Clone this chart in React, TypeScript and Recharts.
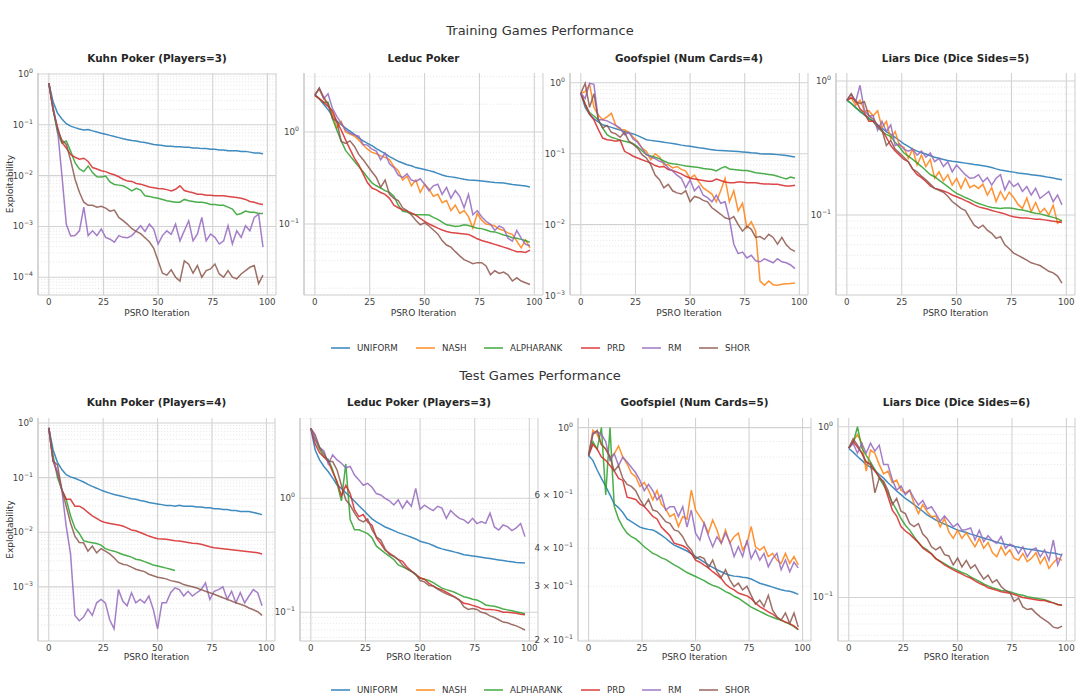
import React from 'react';
import { LineChart, Line, XAxis, YAxis, CartesianGrid } from 'recharts';

// PSRO iterations (every second iteration is kept)
const ITERS = [0, 2, 4, 6, 8, 10, 12, 14, 16, 18, 20, 22, 24, 26, 28, 30, 32, 34, 36, 38, 40, 42, 44, 46, 48, 50, 52, 54, 56, 58, 60, 62, 64, 66, 68, 70, 72, 74, 76, 78, 80, 82, 84, 86, 88, 90, 92, 94, 96, 98];

// Kuhn Poker (Players=3)
const kuhn3Uniform = [0.66, 0.28, 0.17, 0.13, 0.105, 0.094, 0.088, 0.083, 0.079, 0.081, 0.076, 0.072, 0.068, 0.065, 0.062, 0.059, 0.056, 0.053, 0.051, 0.049, 0.048, 0.046, 0.045, 0.043, 0.041, 0.040, 0.039, 0.038, 0.038, 0.037, 0.037, 0.036, 0.036, 0.035, 0.035, 0.034, 0.034, 0.033, 0.033, 0.032, 0.032, 0.031, 0.031, 0.031, 0.030, 0.030, 0.029, 0.028, 0.028, 0.027];
const kuhn3Alpharank = [0.66, 0.2, 0.07, 0.044, 0.048, 0.03, 0.018, 0.0135, 0.012, 0.0155, 0.0115, 0.0095, 0.0094, 0.0098, 0.0075, 0.0067, 0.0065, 0.0063, 0.0057, 0.005, 0.0056, 0.0052, 0.004, 0.0039, 0.0037, 0.0036, 0.0034, 0.0032, 0.0031, 0.003, 0.003, 0.0034, 0.0032, 0.0031, 0.003, 0.003, 0.0029, 0.0027, 0.0027, 0.0026, 0.0026, 0.0024, 0.0022, 0.0017, 0.0018, 0.002, 0.0019, 0.0019, 0.0018, 0.0018];
const kuhn3Prd = [0.66, 0.19, 0.09, 0.045, 0.035, 0.026, 0.023, 0.021, 0.022, 0.019, 0.0144, 0.0135, 0.0125, 0.012, 0.011, 0.0104, 0.0095, 0.0085, 0.0078, 0.0077, 0.007, 0.0068, 0.0064, 0.006, 0.0058, 0.0056, 0.0055, 0.0053, 0.005, 0.0054, 0.0063, 0.0051, 0.0048, 0.0046, 0.0043, 0.0043, 0.0041, 0.0041, 0.004, 0.004, 0.004, 0.0039, 0.0038, 0.0037, 0.0036, 0.0034, 0.0031, 0.003, 0.0028, 0.0027];
const kuhn3Rm = [0.66, 0.22, 0.08, 0.01, 0.0011, 0.00065, 0.00066, 0.00082, 0.0024, 0.00066, 0.00082, 0.00066, 0.00089, 0.00061, 0.00056, 0.00049, 0.00066, 0.00061, 0.0006, 0.00066, 0.00082, 0.00103, 0.0008, 0.00111, 0.00089, 0.00045, 0.00066, 0.00082, 0.0007, 0.00111, 0.00052, 0.00082, 0.00129, 0.00052, 0.00071, 0.0015, 0.00052, 0.00071, 0.00061, 0.00045, 0.00052, 0.00103, 0.00045, 0.00082, 0.00061, 0.00103, 0.00082, 0.0015, 0.00175, 0.00039];
const kuhn3Shor = [0.66, 0.2, 0.08, 0.05, 0.041, 0.02, 0.0085, 0.0047, 0.003, 0.0026, 0.0026, 0.0024, 0.0025, 0.0023, 0.002, 0.0021, 0.0015, 0.0013, 0.0011, 0.0009, 0.0008, 0.00072, 0.0006, 0.0005, 0.00037, 0.00021, 0.00012, 0.00011, 0.00014, 0.0001, 0.000084, 0.00021, 0.00018, 0.00012, 0.00017, 0.0001, 0.000135, 0.000146, 0.000182, 0.000116, 0.0001, 0.000135, 0.0001, 0.000093, 0.000116, 0.000135, 0.000157, 0.00017, 0.000075, 0.00011];

// Leduc Poker
const leducUniform = [2.55, 2.3, 2.0, 1.75, 1.5, 1.31, 1.2, 1.1, 1.02, 0.94, 0.86, 0.8, 0.75, 0.71, 0.66, 0.62, 0.58, 0.54, 0.51, 0.48, 0.46, 0.44, 0.43, 0.41, 0.40, 0.39, 0.38, 0.37, 0.355, 0.34, 0.33, 0.325, 0.32, 0.313, 0.306, 0.30, 0.298, 0.296, 0.293, 0.29, 0.286, 0.283, 0.281, 0.278, 0.273, 0.268, 0.265, 0.262, 0.258, 0.252];
const leducNash = [2.6, 2.9, 2.3, 2.0, 1.6, 1.1, 1.3, 1.0, 0.95, 0.9, 0.82, 0.72, 0.65, 0.6, 0.58, 0.55, 0.53, 0.5, 0.42, 0.38, 0.3, 0.33, 0.26, 0.3, 0.22, 0.27, 0.24, 0.2, 0.21, 0.17, 0.18, 0.14, 0.16, 0.13, 0.14, 0.12, 0.09, 0.13, 0.11, 0.1, 0.098, 0.095, 0.088, 0.085, 0.08, 0.077, 0.065, 0.055, 0.067, 0.055];
const leducAlpharank = [2.5, 2.3, 2.1, 2.1, 1.4, 1.05, 0.8, 0.63, 0.55, 0.48, 0.42, 0.37, 0.32, 0.28, 0.26, 0.246, 0.23, 0.22, 0.2, 0.16, 0.137, 0.135, 0.128, 0.126, 0.126, 0.126, 0.125, 0.118, 0.112, 0.105, 0.098, 0.096, 0.094, 0.095, 0.098, 0.096, 0.093, 0.09, 0.089, 0.086, 0.083, 0.082, 0.079, 0.076, 0.074, 0.071, 0.07, 0.068, 0.066, 0.063];
const leducPrd = [2.5, 2.3, 2.1, 1.9, 1.7, 1.3, 1.05, 0.82, 0.65, 0.52, 0.44, 0.35, 0.28, 0.246, 0.235, 0.22, 0.21, 0.19, 0.16, 0.15, 0.143, 0.138, 0.132, 0.125, 0.115, 0.107, 0.1, 0.095, 0.09, 0.086, 0.083, 0.081, 0.08, 0.079, 0.078, 0.077, 0.073, 0.069, 0.066, 0.064, 0.062, 0.06, 0.058, 0.056, 0.054, 0.052, 0.05, 0.05, 0.049, 0.052];
const leducRm = [2.5, 3.0, 2.3, 2.6, 1.8, 1.48, 1.25, 1.05, 0.97, 0.93, 0.9, 0.73, 0.72, 0.65, 0.62, 0.5, 0.59, 0.45, 0.41, 0.34, 0.32, 0.35, 0.3, 0.29, 0.31, 0.27, 0.23, 0.26, 0.27, 0.21, 0.25, 0.19, 0.23, 0.2, 0.15, 0.21, 0.126, 0.14, 0.12, 0.107, 0.099, 0.085, 0.095, 0.09, 0.07, 0.065, 0.085, 0.07, 0.06, 0.058];
const leducShor = [2.5, 3.0, 2.4, 2.0, 1.4, 1.3, 0.79, 0.75, 0.8, 0.7, 0.57, 0.5, 0.43, 0.37, 0.32, 0.25, 0.3, 0.21, 0.19, 0.18, 0.15, 0.14, 0.125, 0.11, 0.098, 0.103, 0.095, 0.086, 0.078, 0.066, 0.059, 0.056, 0.05, 0.045, 0.041, 0.039, 0.037, 0.038, 0.038, 0.035, 0.028, 0.031, 0.029, 0.03, 0.028, 0.024, 0.026, 0.024, 0.023, 0.022];

// Goofspiel (Num Cards=4)
const goof4Uniform = [0.71, 0.45, 0.36, 0.31, 0.28, 0.255, 0.245, 0.235, 0.225, 0.215, 0.205, 0.197, 0.19, 0.18, 0.168, 0.157, 0.154, 0.151, 0.149, 0.145, 0.142, 0.139, 0.136, 0.132, 0.129, 0.127, 0.124, 0.121, 0.119, 0.116, 0.114, 0.112, 0.111, 0.11, 0.109, 0.108, 0.107, 0.106, 0.105, 0.103, 0.102, 0.1, 0.099, 0.099, 0.098, 0.097, 0.096, 0.094, 0.092, 0.09];
const goof4Nash = [0.71, 0.75, 0.95, 0.45, 0.35, 0.3, 0.33, 0.37, 0.25, 0.22, 0.217, 0.2, 0.17, 0.15, 0.12, 0.108, 0.082, 0.1, 0.09, 0.07, 0.07, 0.063, 0.066, 0.06, 0.057, 0.045, 0.05, 0.04, 0.033, 0.03, 0.027, 0.021, 0.03, 0.045, 0.021, 0.03, 0.0156, 0.02, 0.009, 0.011, 0.0081, 0.0016, 0.0014, 0.0016, 0.00142, 0.0014, 0.00145, 0.00147, 0.00148, 0.0015];
const goof4Alpharank = [0.71, 0.5, 0.38, 0.34, 0.3, 0.23, 0.185, 0.17, 0.163, 0.155, 0.15, 0.145, 0.138, 0.125, 0.11, 0.097, 0.093, 0.089, 0.085, 0.079, 0.074, 0.072, 0.071, 0.069, 0.067, 0.066, 0.065, 0.064, 0.062, 0.061, 0.06, 0.057, 0.062, 0.066, 0.061, 0.06, 0.059, 0.058, 0.058, 0.056, 0.054, 0.053, 0.052, 0.051, 0.05, 0.048, 0.046, 0.044, 0.047, 0.045];
const goof4Prd = [0.71, 0.5, 0.36, 0.3, 0.22, 0.166, 0.157, 0.155, 0.15, 0.155, 0.108, 0.1, 0.092, 0.087, 0.082, 0.078, 0.074, 0.068, 0.065, 0.066, 0.06, 0.058, 0.055, 0.052, 0.048, 0.045, 0.044, 0.043, 0.042, 0.041, 0.041, 0.044, 0.042, 0.04, 0.039, 0.039, 0.04, 0.04, 0.039, 0.039, 0.039, 0.038, 0.0375, 0.0375, 0.037, 0.037, 0.036, 0.035, 0.035, 0.036];
const goof4Rm = [0.71, 0.6, 0.98, 0.95, 0.3, 0.3, 0.29, 0.27, 0.25, 0.23, 0.185, 0.2, 0.16, 0.145, 0.12, 0.097, 0.09, 0.085, 0.078, 0.075, 0.063, 0.057, 0.05, 0.045, 0.033, 0.043, 0.03, 0.035, 0.026, 0.024, 0.021, 0.026, 0.02, 0.021, 0.012, 0.0053, 0.0039, 0.0041, 0.0034, 0.0037, 0.0031, 0.003, 0.0033, 0.0031, 0.0029, 0.0033, 0.003, 0.0029, 0.0027, 0.0024];
const goof4Shor = [0.71, 0.98, 0.45, 0.7, 0.3, 0.23, 0.25, 0.2, 0.19, 0.17, 0.2, 0.15, 0.135, 0.12, 0.097, 0.087, 0.07, 0.05, 0.043, 0.033, 0.037, 0.03, 0.028, 0.027, 0.03, 0.021, 0.025, 0.024, 0.022, 0.021, 0.0173, 0.0156, 0.014, 0.0125, 0.0119, 0.013, 0.01, 0.0081, 0.0095, 0.0086, 0.0066, 0.0068, 0.0062, 0.0073, 0.0066, 0.0053, 0.0066, 0.0052, 0.0045, 0.0042];

// Liars Dice (Dice Sides=5)
const liars5Uniform = [0.72, 0.68, 0.64, 0.59, 0.56, 0.53, 0.5, 0.47, 0.445, 0.42, 0.40, 0.38, 0.36, 0.34, 0.325, 0.31, 0.30, 0.292, 0.285, 0.277, 0.27, 0.265, 0.26, 0.255, 0.252, 0.25, 0.247, 0.244, 0.241, 0.238, 0.236, 0.233, 0.23, 0.226, 0.221, 0.217, 0.214, 0.211, 0.209, 0.206, 0.204, 0.202, 0.2, 0.198, 0.196, 0.194, 0.191, 0.189, 0.186, 0.183];
const liars5Nash = [0.72, 0.75, 0.66, 0.72, 0.6, 0.6, 0.55, 0.6, 0.45, 0.5, 0.37, 0.42, 0.33, 0.32, 0.265, 0.31, 0.236, 0.28, 0.23, 0.26, 0.188, 0.21, 0.18, 0.2, 0.167, 0.188, 0.158, 0.188, 0.16, 0.167, 0.158, 0.17, 0.141, 0.16, 0.126, 0.15, 0.13, 0.148, 0.135, 0.12, 0.112, 0.134, 0.106, 0.124, 0.104, 0.112, 0.1, 0.118, 0.087, 0.092];
const liars5Alpharank = [0.72, 0.68, 0.63, 0.6, 0.56, 0.52, 0.5, 0.45, 0.42, 0.40, 0.385, 0.35, 0.32, 0.29, 0.275, 0.26, 0.245, 0.23, 0.215, 0.2, 0.193, 0.182, 0.172, 0.163, 0.153, 0.145, 0.14, 0.135, 0.131, 0.126, 0.122, 0.119, 0.116, 0.114, 0.113, 0.112, 0.113, 0.113, 0.112, 0.11, 0.109, 0.107, 0.105, 0.103, 0.102, 0.1, 0.098, 0.096, 0.094, 0.09];
const liars5Prd = [0.72, 0.75, 0.72, 0.62, 0.58, 0.5, 0.5, 0.46, 0.43, 0.38, 0.33, 0.3, 0.28, 0.26, 0.25, 0.22, 0.2, 0.19, 0.178, 0.165, 0.158, 0.155, 0.151, 0.147, 0.141, 0.137, 0.133, 0.128, 0.124, 0.119, 0.115, 0.113, 0.111, 0.108, 0.106, 0.104, 0.102, 0.099, 0.097, 0.096, 0.095, 0.095, 0.094, 0.093, 0.093, 0.092, 0.091, 0.09, 0.089, 0.088];
const liars5Rm = [0.72, 0.8, 0.7, 0.93, 0.6, 0.55, 0.55, 0.43, 0.5, 0.42, 0.47, 0.33, 0.34, 0.31, 0.3, 0.31, 0.28, 0.3, 0.27, 0.29, 0.25, 0.265, 0.23, 0.25, 0.21, 0.236, 0.217, 0.2, 0.188, 0.19, 0.2, 0.177, 0.19, 0.167, 0.188, 0.2, 0.154, 0.18, 0.163, 0.172, 0.15, 0.163, 0.141, 0.158, 0.133, 0.141, 0.15, 0.126, 0.141, 0.119];
const liars5Shor = [0.72, 0.8, 0.7, 0.68, 0.7, 0.55, 0.52, 0.47, 0.43, 0.33, 0.36, 0.31, 0.29, 0.27, 0.25, 0.22, 0.21, 0.195, 0.183, 0.17, 0.158, 0.153, 0.148, 0.138, 0.126, 0.119, 0.112, 0.108, 0.095, 0.084, 0.08, 0.084, 0.077, 0.073, 0.067, 0.069, 0.06, 0.056, 0.052, 0.05, 0.048, 0.046, 0.044, 0.043, 0.042, 0.04, 0.038, 0.037, 0.035, 0.031];

// Kuhn Poker (Players=4) - ALPHARANK stops after iteration 58
const kuhn4Uniform = [0.81, 0.32, 0.19, 0.14, 0.113, 0.103, 0.097, 0.09, 0.083, 0.075, 0.069, 0.064, 0.059, 0.055, 0.052, 0.049, 0.047, 0.045, 0.043, 0.041, 0.04, 0.038, 0.037, 0.035, 0.034, 0.033, 0.032, 0.031, 0.031, 0.030, 0.031, 0.030, 0.030, 0.030, 0.029, 0.029, 0.028, 0.028, 0.027, 0.027, 0.026, 0.026, 0.025, 0.025, 0.024, 0.024, 0.024, 0.023, 0.022, 0.021];
const kuhn4Alpharank = [0.81, 0.25, 0.1, 0.06, 0.04, 0.02, 0.012, 0.0095, 0.007, 0.0066, 0.0064, 0.0062, 0.0058, 0.005, 0.0047, 0.0045, 0.0042, 0.0039, 0.0037, 0.0035, 0.0032, 0.0031, 0.0029, 0.0027, 0.0025, 0.0024, 0.0023, 0.0022, 0.0021, 0.002];
const kuhn4Prd = [0.81, 0.2, 0.12, 0.06, 0.04, 0.04, 0.03, 0.03, 0.027, 0.023, 0.02, 0.018, 0.016, 0.015, 0.0145, 0.014, 0.0135, 0.013, 0.012, 0.011, 0.0106, 0.0099, 0.0092, 0.0085, 0.008, 0.0076, 0.0075, 0.0074, 0.0072, 0.007, 0.0069, 0.0067, 0.0065, 0.0063, 0.0062, 0.006, 0.0057, 0.0054, 0.0052, 0.0051, 0.005, 0.0049, 0.0048, 0.0047, 0.0046, 0.0045, 0.0044, 0.0043, 0.0042, 0.004];
const kuhn4Rm = [0.81, 0.2, 0.13, 0.06, 0.0129, 0.004, 0.0003, 0.00024, 0.00028, 0.00039, 0.0003, 0.00051, 0.00059, 0.00051, 0.00025, 0.00017, 0.00089, 0.00055, 0.00045, 0.00078, 0.00051, 0.00059, 0.00051, 0.00068, 0.00039, 0.00017, 0.00051, 0.00051, 0.00078, 0.00096, 0.00089, 0.00068, 0.00083, 0.00068, 0.00078, 0.00089, 0.00118, 0.00059, 0.00083, 0.00089, 0.001, 0.00059, 0.00083, 0.00051, 0.00078, 0.00051, 0.00068, 0.00089, 0.00078, 0.00045];
const kuhn4Shor = [0.81, 0.2, 0.17, 0.06, 0.03, 0.0148, 0.0085, 0.0065, 0.0064, 0.0045, 0.0056, 0.0042, 0.005, 0.0045, 0.004, 0.0034, 0.0028, 0.0026, 0.0025, 0.0023, 0.0021, 0.002, 0.0019, 0.0017, 0.0016, 0.0015, 0.00145, 0.0014, 0.0013, 0.00125, 0.0012, 0.0011, 0.00105, 0.001, 0.00095, 0.00089, 0.00083, 0.00078, 0.00073, 0.00068, 0.00063, 0.00059, 0.00055, 0.00051, 0.00048, 0.00045, 0.00041, 0.00038, 0.00035, 0.0003];

// Leduc Poker (Players=3)
const leduc3Uniform = [4.1, 2.65, 2.17, 1.9, 1.71, 1.5, 1.31, 1.22, 1.12, 1.03, 0.94, 0.86, 0.79, 0.72, 0.66, 0.62, 0.59, 0.56, 0.54, 0.52, 0.5, 0.485, 0.47, 0.455, 0.44, 0.42, 0.41, 0.4, 0.385, 0.37, 0.36, 0.352, 0.345, 0.337, 0.33, 0.32, 0.316, 0.312, 0.308, 0.304, 0.30, 0.296, 0.292, 0.288, 0.284, 0.28, 0.277, 0.274, 0.272, 0.27];
const leduc3Alpharank = [4.1, 3.3, 2.7, 2.3, 2.2, 1.77, 1.35, 0.95, 2.0, 0.65, 0.53, 0.53, 0.51, 0.49, 0.45, 0.38, 0.355, 0.33, 0.31, 0.29, 0.26, 0.25, 0.24, 0.228, 0.214, 0.2, 0.195, 0.19, 0.182, 0.172, 0.163, 0.158, 0.154, 0.149, 0.143, 0.137, 0.134, 0.13, 0.128, 0.123, 0.116, 0.114, 0.113, 0.11, 0.107, 0.105, 0.103, 0.101, 0.099, 0.097];
const leduc3Prd = [4.1, 3.0, 2.5, 2.3, 2.1, 1.7, 1.4, 1.05, 1.3, 1.1, 0.79, 0.69, 0.72, 0.62, 0.58, 0.45, 0.4, 0.35, 0.33, 0.31, 0.29, 0.28, 0.25, 0.23, 0.215, 0.2, 0.195, 0.18, 0.17, 0.162, 0.157, 0.15, 0.143, 0.136, 0.128, 0.12, 0.118, 0.115, 0.112, 0.108, 0.106, 0.106, 0.105, 0.103, 0.1, 0.1, 0.099, 0.098, 0.096, 0.095];
const leduc3Rm = [4.1, 3.3, 2.8, 2.6, 2.0, 2.4, 2.17, 2.03, 1.85, 1.9, 1.6, 1.45, 1.3, 1.35, 1.25, 1.1, 1.07, 1.0, 0.95, 0.874, 0.97, 0.82, 0.95, 0.85, 1.22, 0.8, 0.87, 0.82, 0.78, 0.85, 0.82, 0.667, 0.78, 0.714, 0.667, 0.646, 0.603, 0.667, 0.6, 0.624, 0.603, 0.739, 0.56, 0.527, 0.583, 0.564, 0.52, 0.55, 0.6, 0.461];
const leduc3Shor = [4.1, 3.6, 2.8, 2.45, 2.1, 2.1, 1.77, 1.3, 0.97, 0.87, 0.74, 0.65, 0.62, 0.66, 0.53, 0.46, 0.43, 0.36, 0.32, 0.31, 0.29, 0.26, 0.24, 0.23, 0.215, 0.19, 0.185, 0.172, 0.17, 0.16, 0.152, 0.145, 0.14, 0.135, 0.128, 0.112, 0.106, 0.108, 0.106, 0.1, 0.098, 0.093, 0.09, 0.086, 0.082, 0.081, 0.078, 0.076, 0.073, 0.07];

// Goofspiel (Num Cards=5)
const goof5Uniform = [0.81, 0.78, 0.725, 0.68, 0.64, 0.6, 0.56, 0.545, 0.525, 0.5, 0.49, 0.48, 0.47, 0.465, 0.462, 0.46, 0.452, 0.442, 0.432, 0.42, 0.41, 0.404, 0.398, 0.392, 0.384, 0.376, 0.368, 0.36, 0.353, 0.346, 0.34, 0.335, 0.33, 0.326, 0.324, 0.323, 0.321, 0.32, 0.317, 0.312, 0.307, 0.304, 0.301, 0.298, 0.295, 0.292, 0.29, 0.289, 0.286, 0.282];
const goof5Nash = [0.81, 0.98, 0.95, 0.88, 0.85, 0.8, 0.82, 0.87, 0.8, 0.76, 0.707, 0.69, 0.64, 0.66, 0.623, 0.578, 0.62, 0.56, 0.54, 0.509, 0.52, 0.472, 0.509, 0.5, 0.623, 0.535, 0.509, 0.484, 0.45, 0.496, 0.46, 0.416, 0.46, 0.416, 0.437, 0.449, 0.395, 0.416, 0.472, 0.405, 0.395, 0.405, 0.376, 0.385, 0.366, 0.357, 0.385, 0.357, 0.376, 0.353];
const goof5Alpharank = [0.81, 0.9, 0.85, 1.0, 0.6, 1.0, 0.55, 0.5, 0.47, 0.449, 0.437, 0.43, 0.418, 0.405, 0.395, 0.385, 0.38, 0.372, 0.368, 0.36, 0.353, 0.347, 0.34, 0.333, 0.328, 0.323, 0.318, 0.313, 0.307, 0.302, 0.299, 0.294, 0.288, 0.284, 0.278, 0.274, 0.268, 0.262, 0.256, 0.252, 0.248, 0.244, 0.24, 0.237, 0.234, 0.232, 0.228, 0.225, 0.221, 0.216];
const goof5Prd = [0.81, 0.88, 0.85, 0.8, 0.78, 0.75, 0.72, 0.68, 0.67, 0.59, 0.585, 0.58, 0.56, 0.55, 0.53, 0.51, 0.5, 0.47, 0.455, 0.44, 0.416, 0.412, 0.408, 0.4, 0.385, 0.366, 0.36, 0.352, 0.345, 0.335, 0.327, 0.318, 0.305, 0.297, 0.292, 0.285, 0.282, 0.279, 0.273, 0.264, 0.257, 0.252, 0.247, 0.243, 0.237, 0.232, 0.229, 0.226, 0.222, 0.216];
const goof5Rm = [0.81, 0.96, 0.97, 0.95, 0.9, 0.78, 0.82, 0.75, 0.8, 0.77, 0.74, 0.71, 0.67, 0.62, 0.65, 0.62, 0.578, 0.6, 0.535, 0.549, 0.549, 0.509, 0.549, 0.47, 0.535, 0.449, 0.426, 0.484, 0.44, 0.405, 0.437, 0.416, 0.45, 0.42, 0.376, 0.405, 0.376, 0.426, 0.37, 0.395, 0.366, 0.385, 0.348, 0.37, 0.385, 0.34, 0.366, 0.335, 0.36, 0.345];
const goof5Shor = [0.81, 0.95, 0.98, 0.88, 0.85, 0.8, 0.72, 0.75, 0.68, 0.65, 0.64, 0.62, 0.58, 0.55, 0.58, 0.535, 0.53, 0.51, 0.49, 0.484, 0.46, 0.455, 0.437, 0.41, 0.395, 0.37, 0.376, 0.37, 0.345, 0.366, 0.335, 0.321, 0.34, 0.315, 0.299, 0.307, 0.292, 0.3, 0.28, 0.262, 0.27, 0.257, 0.28, 0.25, 0.238, 0.232, 0.245, 0.226, 0.245, 0.22];

// Liars Dice (Dice Sides=6)
const liars6Uniform = [0.746, 0.71, 0.67, 0.635, 0.6, 0.58, 0.555, 0.525, 0.5, 0.47, 0.445, 0.42, 0.4, 0.38, 0.365, 0.35, 0.335, 0.32, 0.305, 0.295, 0.284, 0.276, 0.269, 0.262, 0.255, 0.248, 0.244, 0.24, 0.235, 0.231, 0.227, 0.223, 0.219, 0.215, 0.211, 0.207, 0.205, 0.202, 0.199, 0.197, 0.194, 0.192, 0.191, 0.189, 0.187, 0.185, 0.183, 0.182, 0.18, 0.177];
const liars6Nash = [0.75, 0.82, 0.9, 0.8, 0.55, 0.73, 0.7, 0.6, 0.53, 0.55, 0.47, 0.487, 0.425, 0.41, 0.425, 0.355, 0.31, 0.35, 0.318, 0.297, 0.3, 0.259, 0.29, 0.242, 0.222, 0.248, 0.222, 0.24, 0.217, 0.198, 0.222, 0.194, 0.21, 0.183, 0.173, 0.198, 0.177, 0.19, 0.17, 0.165, 0.181, 0.162, 0.17, 0.183, 0.158, 0.173, 0.148, 0.16, 0.17, 0.165];
const liars6Alpharank = [0.75, 0.8, 1.0, 0.75, 0.68, 0.62, 0.56, 0.5, 0.455, 0.41, 0.36, 0.325, 0.29, 0.265, 0.248, 0.227, 0.21, 0.197, 0.19, 0.18, 0.169, 0.163, 0.158, 0.152, 0.148, 0.144, 0.14, 0.137, 0.132, 0.128, 0.124, 0.12, 0.117, 0.114, 0.112, 0.11, 0.109, 0.108, 0.106, 0.104, 0.103, 0.101, 0.1, 0.099, 0.098, 0.097, 0.095, 0.093, 0.091, 0.09];
const liars6Prd = [0.75, 0.82, 0.76, 0.7, 0.62, 0.6, 0.55, 0.51, 0.47, 0.39, 0.325, 0.3, 0.26, 0.245, 0.235, 0.222, 0.21, 0.195, 0.187, 0.18, 0.169, 0.162, 0.155, 0.15, 0.145, 0.141, 0.137, 0.133, 0.13, 0.125, 0.121, 0.118, 0.114, 0.112, 0.11, 0.108, 0.107, 0.106, 0.104, 0.102, 0.1, 0.099, 0.098, 0.097, 0.096, 0.096, 0.094, 0.093, 0.091, 0.09];
const liars6Rm = [0.75, 0.8, 0.7, 0.8, 0.7, 0.8, 0.72, 0.78, 0.6, 0.6, 0.49, 0.425, 0.45, 0.4, 0.425, 0.38, 0.348, 0.37, 0.33, 0.34, 0.31, 0.28, 0.3, 0.28, 0.259, 0.271, 0.248, 0.25, 0.255, 0.217, 0.248, 0.212, 0.23, 0.215, 0.207, 0.227, 0.194, 0.205, 0.2, 0.181, 0.198, 0.173, 0.19, 0.195, 0.173, 0.19, 0.165, 0.217, 0.155, 0.181];
const liars6Shor = [0.75, 0.85, 0.78, 0.7, 0.62, 0.61, 0.41, 0.5, 0.48, 0.425, 0.35, 0.38, 0.32, 0.31, 0.271, 0.26, 0.271, 0.235, 0.222, 0.198, 0.19, 0.198, 0.178, 0.175, 0.155, 0.17, 0.151, 0.165, 0.148, 0.155, 0.14, 0.128, 0.135, 0.122, 0.127, 0.116, 0.11, 0.107, 0.095, 0.099, 0.088, 0.085, 0.086, 0.081, 0.077, 0.074, 0.071, 0.067, 0.066, 0.068];

const METHODS = ['UNIFORM', 'NASH', 'ALPHARANK', 'PRD', 'RM', 'SHOR'];
const COLORS: Record<string, string> = {
  UNIFORM: '#1f77b4',
  NASH: '#ff7f0e',
  ALPHARANK: '#2ca02c',
  PRD: '#d62728',
  RM: '#9467bd',
  SHOR: '#8c564b',
};

const FONT = '"DejaVu Sans", sans-serif';
const X_DOMAIN = [-4.95, 103.95];
const X_TICKS = [0, 25, 50, 75, 100];
// room kept around each plot for the tick labels
const PAD_LEFT = 60;
const PAD_TOP = 8;
const PAD_BOTTOM = 24;

type Panel = {
  title: string;
  left: number;
  top: number;
  width: number;
  height: number;
  yDomain: [number, number];
  yTicks: number[];
  yLabel?: boolean;
  series: Record<string, number[]>;
};

const PANELS: Panel[] = [
  {
    title: 'Kuhn Poker (Players=3)', left: 38, top: 73, width: 238, height: 222,
    yDomain: [4.47e-5, 1.047], yTicks: [1e-4, 1e-3, 1e-2, 1e-1, 1], yLabel: true,
    series: { UNIFORM: kuhn3Uniform, ALPHARANK: kuhn3Alpharank, PRD: kuhn3Prd, RM: kuhn3Rm, SHOR: kuhn3Shor },
  },
  {
    title: 'Leduc Poker', left: 304, top: 73, width: 239, height: 222,
    yDomain: [0.0169, 4.375], yTicks: [0.1, 1],
    series: { UNIFORM: leducUniform, NASH: leducNash, ALPHARANK: leducAlpharank, PRD: leducPrd, RM: leducRm, SHOR: leducShor },
  },
  {
    title: 'Goofspiel (Num Cards=4)', left: 570, top: 73, width: 238, height: 222,
    yDomain: [0.00102, 1.371], yTicks: [1e-3, 1e-2, 1e-1, 1],
    series: { UNIFORM: goof4Uniform, NASH: goof4Nash, ALPHARANK: goof4Alpharank, PRD: goof4Prd, RM: goof4Rm, SHOR: goof4Shor },
  },
  {
    title: 'Liars Dice (Dice Sides=5)', left: 836, top: 73, width: 239, height: 222,
    yDomain: [0.0253, 1.148], yTicks: [0.1, 1],
    series: { UNIFORM: liars5Uniform, NASH: liars5Nash, ALPHARANK: liars5Alpharank, PRD: liars5Prd, RM: liars5Rm, SHOR: liars5Shor },
  },
  {
    title: 'Kuhn Poker (Players=4)', left: 38, top: 418, width: 237, height: 223,
    yDomain: [1.02e-4, 1.233], yTicks: [1e-3, 1e-2, 1e-1, 1], yLabel: true,
    series: { UNIFORM: kuhn4Uniform, ALPHARANK: kuhn4Alpharank, PRD: kuhn4Prd, RM: kuhn4Rm, SHOR: kuhn4Shor },
  },
  {
    title: 'Leduc Poker (Players=3)', left: 300, top: 418, width: 238, height: 223,
    yDomain: [0.056, 5.06], yTicks: [0.1, 1],
    series: { UNIFORM: leduc3Uniform, ALPHARANK: leduc3Alpharank, PRD: leduc3Prd, RM: leduc3Rm, SHOR: leduc3Shor },
  },
  {
    title: 'Goofspiel (Num Cards=5)', left: 578, top: 418, width: 233, height: 223,
    yDomain: [0.198, 1.076], yTicks: [0.2, 0.3, 0.4, 0.6, 1],
    series: { UNIFORM: goof5Uniform, NASH: goof5Nash, ALPHARANK: goof5Alpharank, PRD: goof5Prd, RM: goof5Rm, SHOR: goof5Shor },
  },
  {
    title: 'Liars Dice (Dice Sides=6)', left: 838, top: 418, width: 237, height: 223,
    yDomain: [0.0556, 1.125], yTicks: [0.1, 1],
    series: { UNIFORM: liars6Uniform, NASH: liars6Nash, ALPHARANK: liars6Alpharank, PRD: liars6Prd, RM: liars6Rm, SHOR: liars6Shor },
  },
];

const buildRows = (series: Record<string, number[]>) =>
  ITERS.map((it, i) => {
    const row: Record<string, number | undefined> = { it };
    Object.keys(series).forEach((k) => {
      row[k] = series[k][i];
    });
    return row;
  });

// powers of ten and the 2..9 multiples in between, inside the axis range
const gridValues = (lo: number, hi: number) => {
  const major: number[] = [];
  const minor: number[] = [];
  for (let e = Math.floor(Math.log10(lo)); e <= Math.ceil(Math.log10(hi)); e++) {
    const p = Math.pow(10, e);
    if (p >= lo && p <= hi) major.push(p);
    for (let k = 2; k <= 9; k++) {
      const v = k * p;
      if (v > lo && v < hi) minor.push(v);
    }
  }
  return { major, minor };
};

const XTick = (props: any) => {
  const { x, y, payload } = props;
  return (
    <text x={x} y={y + 7} textAnchor="middle" dominantBaseline="central" fontSize={8.7} fill="#444" fontFamily={FONT}>
      {payload.value}
    </text>
  );
};

const YTick = (props: any) => {
  const { x, y, payload } = props;
  const v = payload.value as number;
  const exp = Math.floor(Math.log10(v) + 1e-9);
  const mant = Math.round(v / Math.pow(10, exp));
  const expText = exp < 0 ? `\u2212${-exp}` : `${exp}`;
  return (
    <text x={x - 5} y={y + 3} textAnchor="end" fontSize={8.7} fill="#444" fontFamily={FONT}>
      {mant !== 1 ? `${mant} \u00d7 10` : '10'}
      <tspan dy={-4} fontSize={6.2}>{expText}</tspan>
    </text>
  );
};

const PanelChart = ({ p }: { p: Panel }) => {
  const rows = buildRows(p.series);
  const { major, minor } = gridValues(p.yDomain[0], p.yDomain[1]);
  return (
    <div style={{ position: 'absolute', left: p.left - PAD_LEFT, top: p.top - PAD_TOP }}>
      <LineChart
        width={p.width + PAD_LEFT + 4}
        height={p.height + PAD_TOP + PAD_BOTTOM}
        data={rows}
        margin={{ top: PAD_TOP, right: 4, bottom: 0, left: 0 }}
      >
        <CartesianGrid vertical={false} horizontalValues={minor} stroke="#e0e0e0" strokeWidth={0.7} strokeDasharray="1.2 1.8" />
        <CartesianGrid vertical={false} horizontalValues={major} stroke="#d2d2d2" strokeWidth={1.1} />
        <CartesianGrid horizontal={false} stroke="#d2d2d2" strokeWidth={1.1} />
        <XAxis
          dataKey="it"
          type="number"
          domain={X_DOMAIN}
          ticks={X_TICKS}
          allowDataOverflow
          height={PAD_BOTTOM}
          tickSize={0}
          tickMargin={0}
          tickLine={false}
          axisLine={{ stroke: '#cccccc', strokeWidth: 1.2 }}
          tick={<XTick />}
          interval={0}
        />
        <YAxis
          type="number"
          scale="log"
          domain={p.yDomain}
          ticks={p.yTicks}
          allowDataOverflow
          width={PAD_LEFT}
          tickSize={0}
          tickMargin={0}
          tickLine={false}
          axisLine={{ stroke: '#cccccc', strokeWidth: 1.2 }}
          tick={<YTick />}
          interval={0}
        />
        {METHODS.filter((m) => p.series[m]).map((m) => (
          <Line
            key={m}
            dataKey={m}
            type="linear"
            stroke={COLORS[m]}
            strokeWidth={1.5}
            strokeOpacity={0.85}
            dot={false}
            activeDot={false}
            isAnimationActive={false}
          />
        ))}
      </LineChart>
    </div>
  );
};

// legend entry positions along each legend row
const LEGEND_X = [331, 416, 484, 581, 642, 699];

const Legend = ({ y }: { y: number }) => (
  <g>
    {METHODS.map((m, i) => (
      <g key={m}>
        <line x1={LEGEND_X[i]} x2={LEGEND_X[i] + 19} y1={y} y2={y} stroke={COLORS[m]} strokeWidth={1.6} strokeOpacity={0.85} />
        <text x={LEGEND_X[i] + 26} y={y} dominantBaseline="central" fontSize={8.7} fill="#333" fontFamily={FONT}>
          {m}
        </text>
      </g>
    ))}
  </g>
);

export default function App() {
  return (
    <div style={{ position: 'absolute', left: 0, top: 0, width: 1080, height: 700, background: '#fff', overflow: 'hidden' }}>
      {PANELS.map((p) => (
        <PanelChart key={p.title} p={p} />
      ))}
      <svg width={1080} height={700} style={{ position: 'absolute', left: 0, top: 0, pointerEvents: 'none' }}>
        <text x={540} y={30} textAnchor="middle" dominantBaseline="central" fontSize={13} fill="#333" fontFamily={FONT}>
          Training Games Performance
        </text>
        <text x={540} y={375} textAnchor="middle" dominantBaseline="central" fontSize={13} fill="#333" fontFamily={FONT}>
          Test Games Performance
        </text>
        {PANELS.map((p, i) => {
          const cx = p.left + p.width / 2;
          const row = i < 4 ? 0 : 1;
          return (
            <g key={p.title}>
              <text x={cx} y={row === 0 ? 58 : 402} textAnchor="middle" dominantBaseline="central" fontSize={10.4} fontWeight="bold" fill="#262626" fontFamily={FONT}>
                {p.title}
              </text>
              <text x={cx} y={row === 0 ? 313 : 657} textAnchor="middle" dominantBaseline="central" fontSize={9} fill="#333" fontFamily={FONT}>
                PSRO Iteration
              </text>
              {p.yLabel && (
                <text
                  x={10}
                  y={p.top + p.height / 2}
                  textAnchor="middle"
                  dominantBaseline="central"
                  fontSize={9}
                  fill="#333"
                  fontFamily={FONT}
                  transform={`rotate(-90 10 ${p.top + p.height / 2})`}
                >
                  Exploitability
                </text>
              )}
            </g>
          );
        })}
        <Legend y={348} />
        <Legend y={690} />
      </svg>
    </div>
  );
}
